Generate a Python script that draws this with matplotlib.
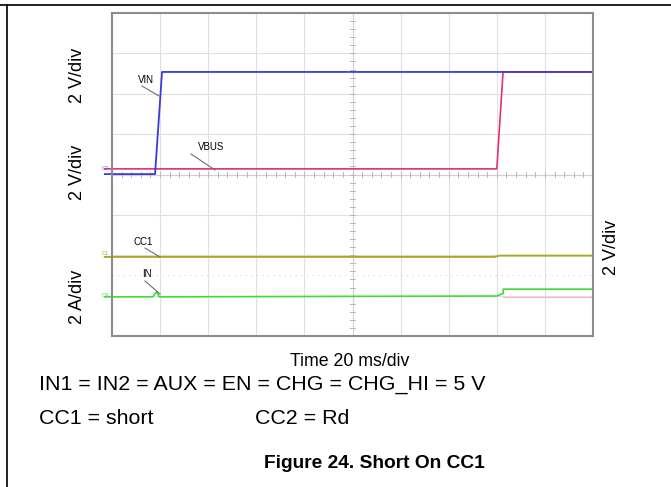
import numpy as np
import matplotlib
matplotlib.use("Agg")
import matplotlib.pyplot as plt
from matplotlib.lines import Line2D

plt.rcParams['font.family'] = ['Liberation Sans', 'DejaVu Sans']

# scope traces, time in ms (20 ms/div), level in divisions
vin_t = [-3, 17.9, 20.8, 200]
vin_y = [4.01, 4.01, 6.54, 6.54]
vbus_t = [-3, 160.0, 162.6, 200]
vbus_y = [4.14, 4.14, 6.54, 6.54]
cc1_t = [-3, 159.0, 161.0, 200]
cc1_y = [1.96, 1.96, 1.99, 1.99]
in_t = [-3, 17.0, 18.6, 19.6, 160.0, 162.6, 162.7, 200]
in_y = [0.97, 0.97, 1.10, 0.97, 0.99, 1.05, 1.16, 1.16]
# faint ground reference of IN channel, visible after the step
in_ref_t = [162.7, 200]
in_ref_y = [0.97, 0.97]

W, H = 671, 487


def fx(x):
    return x / W


def fy(y):
    return 1 - y / H


fig = plt.figure(figsize=(W / 100, H / 100), dpi=100)

# page frame (top and left rule)
fig.add_artist(Line2D([0, 1], [fy(4.5), fy(4.5)], transform=fig.transFigure, color='black', lw=1.2))
fig.add_artist(Line2D([fx(7), fx(7)], [fy(4.5), 0], transform=fig.transFigure, color='black', lw=1.2))

ax = fig.add_axes([fx(112), fy(336), (593 - 112) / W, (336 - 13) / H])
ax.set_xlim(0, 200)
ax.set_ylim(0, 8)
ax.set_xticks([])
ax.set_yticks([])
for s in ax.spines.values():
    s.set_color('#8c8c8c')
    s.set_linewidth(1.5)

# graticule
for i in range(1, 10):
    ax.axvline(i * 20, color='#e0e0e0', lw=0.8, zorder=0)
for j in range(1, 8):
    ax.axhline(j, color='#e0e0e0', lw=0.8, zorder=0)
ax.axvline(100, color='#d0d0d0', lw=0.8, zorder=0)
ax.axhline(4, color='#d0d0d0', lw=0.8, zorder=0)
# center ticks
for t in np.arange(0, 200.1, 4):
    ax.plot([t, t], [3.95, 4.05], color='#b8b8b8', lw=0.7, zorder=0)
for v in np.arange(0, 8.01, 0.2):
    ax.plot([99.0, 101.0], [v, v], color='#b8b8b8', lw=0.7, zorder=0)
ax.axhline(1.5, color='#d8d8d8', lw=0.8, ls=(0, (1, 4)), zorder=0)

# traces
ax.plot(in_ref_t, in_ref_y, color='#f0b0d0', lw=0.8)
ax.plot(vbus_t, vbus_y, color='#e0307a', lw=1.2, clip_on=False)
ax.plot(vin_t, vin_y, color='#3b3bd6', lw=1.3, clip_on=False)
ax.plot(cc1_t, cc1_y, color='#a8a828', lw=1.4, clip_on=False)
ax.plot(in_t, in_y, color='#3cdc3c', lw=1.2, clip_on=False)

# channel markers
ax.text(-4.2, 4.14, 'C2', color='#6060d0', fontsize=4, va='center', ha='left')
ax.text(-4.2, 1.99, 'C1', color='#a8a828', fontsize=4, va='bottom', ha='left')
ax.text(-4.2, 1.0, 'C4', color='#3cdc3c', fontsize=4, va='center', ha='left')


# trace labels with leader lines (pixel coords)
def label(txt, x, y, x0, y0, x1, y1):
    fig.text(fx(x), fy(y), txt, fontsize=7, ha='center', va='center')
    fig.add_artist(Line2D([fx(x0), fx(x1)], [fy(y0), fy(y1)], transform=fig.transFigure,
                          color='#707070', lw=0.8))


label('VIN', 146, 80, 142, 86, 159, 96)
label('VBUS', 211, 147, 191, 154, 215, 170)
label('CC1', 143, 242, 145, 248, 160, 257)
label('IN', 147, 274, 145, 281, 160, 294)

# axis scale labels
fig.text(fx(77), fy(75), '2 V/div', rotation=90, fontsize=13, ha='center', va='center')
fig.text(fx(77), fy(172), '2 V/div', rotation=90, fontsize=13, ha='center', va='center')
fig.text(fx(77), fy(297), '2 A/div', rotation=90, fontsize=13, ha='center', va='center')
fig.text(fx(611), fy(247), '2 V/div', rotation=90, fontsize=13, ha='center', va='center')

fig.text(fx(350), fy(362), 'Time 20 ms/div', fontsize=12.8, ha='center', va='center')
fig.text(fx(39), fy(385), 'IN1 = IN2 = AUX = EN = CHG = CHG_HI = 5 V', fontsize=15.4, ha='left', va='center')
fig.text(fx(39), fy(418), 'CC1 = short', fontsize=15.4, ha='left', va='center')
fig.text(fx(255), fy(418), 'CC2 = Rd', fontsize=15.4, ha='left', va='center')
fig.text(fx(374), fy(463), 'Figure 24. Short On CC1', fontsize=13.8, fontweight='bold',
         ha='center', va='center')

fig.savefig('out.png', dpi=100)
